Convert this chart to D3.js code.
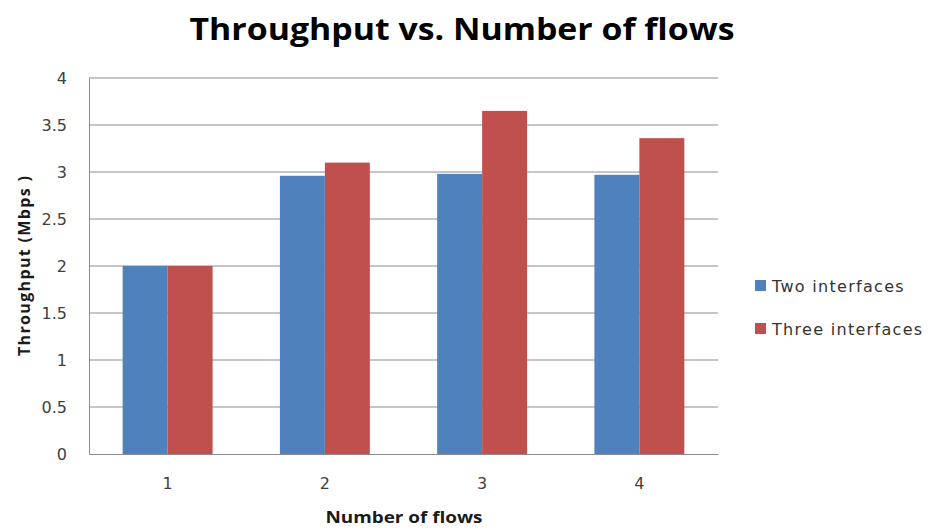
<!DOCTYPE html>
<html>
<head>
<meta charset="utf-8">
<script src="https://cdn.jsdelivr.net/npm/d3@7"></script>
<style>
  body { margin: 0; background: #fff; }
  svg text { font-family: "DejaVu Sans", sans-serif; }
</style>
</head>
<body>
<div id="chart"></div>
<script>
// values
const flows = ["1", "2", "3", "4"];
const seriesNames = ["Two interfaces", "Three interfaces"];
const twoIf = [2.0, 2.96, 2.98, 2.97];
const threeIf = [2.0, 3.1, 3.65, 3.36];
const yTicks = [0, 0.5, 1, 1.5, 2, 2.5, 3, 3.5, 4];
const colors = ["#4F81BD", "#C0504D"];

const W = 928, H = 531;
const margin = { top: 78, right: 210, bottom: 77, left: 89 };
const innerW = W - margin.left - margin.right;
const innerH = H - margin.top - margin.bottom;

const svg = d3.select("#chart").append("svg")
  .attr("width", W).attr("height", H);

// the reference looks stretched sideways, so horizontal text is widened
svg.append("text")
  .attr("x", 462).attr("y", 40)
  .attr("text-anchor", "middle")
  .attr("textLength", 545).attr("lengthAdjust", "spacingAndGlyphs")
  .style("font-family", "'Open Sans', sans-serif")
  .style("font-weight", "bold")
  .style("font-size", "30px")
  .style("fill", "#000")
  .text("Throughput vs. Number of flows");

const g = svg.append("g").attr("transform", `translate(${margin.left},${margin.top})`);

const x = d3.scaleBand().domain(flows).range([0, innerW]).paddingInner(0).paddingOuter(0);
const x1 = d3.scaleBand().domain([0, 1]).range([x.bandwidth() * 0.214, x.bandwidth() * 0.786]);
const y = d3.scaleLinear().domain([0, 4]).range([innerH, 0]);

// gridlines
g.append("g").selectAll("line").data(yTicks.filter(d => d > 0)).enter().append("line")
  .attr("x1", 0).attr("x2", innerW)
  .attr("y1", d => y(d)).attr("y2", d => y(d))
  .attr("stroke", "#8c8c8c").attr("stroke-width", 1);

const rows = flows.map((f, i) => ({ f, vals: [twoIf[i], threeIf[i]] }));
g.append("g").selectAll("g").data(rows).enter().append("g")
  .attr("transform", d => `translate(${x(d.f)},0)`)
  .selectAll("rect").data(d => d.vals.map((v, k) => ({ v, k }))).enter().append("rect")
  .attr("x", d => x1(d.k))
  .attr("width", x1.bandwidth())
  .attr("y", d => y(d.v))
  .attr("height", d => innerH - y(d.v))
  .attr("fill", d => colors[d.k]);

// axes
const yAxis = g.append("g").call(d3.axisLeft(y).tickValues(yTicks).tickSize(0).tickPadding(22).tickFormat(d3.format("")));
yAxis.select(".domain").attr("stroke", "#8c8c8c");
yAxis.selectAll("text").style("font-size", "16px").style("fill", "#404040");

const xAxis = g.append("g").attr("transform", `translate(0,${innerH})`)
  .call(d3.axisBottom(x).tickSize(0).tickPadding(24));
xAxis.select(".domain").attr("stroke", "#8c8c8c");
xAxis.selectAll("text").style("font-size", "16px").style("fill", "#404040");

svg.append("text")
  .attr("x", 404).attr("y", 523)
  .attr("text-anchor", "middle")
  .attr("textLength", 157).attr("lengthAdjust", "spacingAndGlyphs")
  .style("font-family", "'Open Sans', sans-serif")
  .style("font-weight", "bold").style("font-size", "16px")
  .style("fill", "#1a1a1a")
  .text("Number of flows");

svg.append("text")
  .attr("transform", `translate(30,${margin.top + innerH / 2}) rotate(-90)`)
  .attr("text-anchor", "middle")
  .attr("textLength", 180).attr("lengthAdjust", "spacing")
  .style("font-family", "'Open Sans', sans-serif")
  .style("font-weight", "bold").style("font-size", "16px")
  .style("fill", "#1a1a1a")
  .text("Throughput  (Mbps )");

// legend
const leg = svg.append("g").attr("transform", "translate(755,280)");
const li = leg.selectAll("g").data(seriesNames).enter().append("g")
  .attr("transform", (d, i) => `translate(0,${i * 43})`);
li.append("rect").attr("width", 11).attr("height", 11).attr("fill", (d, i) => colors[i]);
li.append("text").attr("x", 17).attr("y", 12)
  .style("font-size", "16px").style("fill", "#333")
  .style("letter-spacing", "1.3px")
  .text(d => d);
</script>
</body>
</html>
